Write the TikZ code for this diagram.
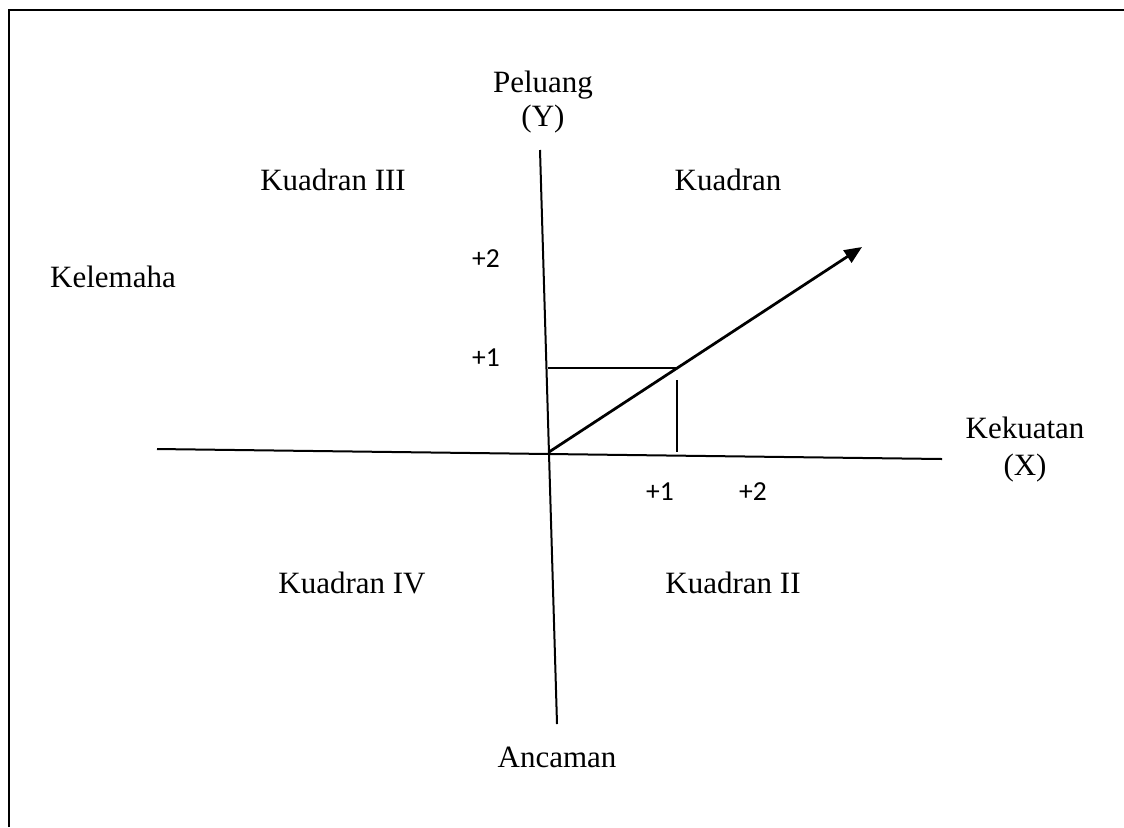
\documentclass[tikz,border=0pt]{standalone}
\usepackage{fontspec}
\setmainfont{Liberation Serif}
\newfontfamily\numfont{Carlito}
\usepackage{tikz}
\usetikzlibrary{arrows.meta,positioning}

\begin{document}
\begin{tikzpicture}[
    x=0.4pt,y=-0.4pt,
    label/.style={inner sep=0pt,anchor=base,font=\fontsize{12.4}{14}\selectfont},
    tick/.style={inner sep=0pt,anchor=base,font=\numfont\fontsize{11}{13}\selectfont},
    axis/.style={line width=0.8pt},
    arrow/.style={-{Triangle[length=7pt,width=5.8pt]},line width=1.1pt}
]
\useasboundingbox (0,0) rectangle (1124,827);
\draw[line width=1.1pt] (9,827) -- (9,10) -- (1124,10);
% axes
\coordinate (O) at (549,452);
\coordinate (ytop) at (540,150);
\coordinate (ybot) at (557,724);
\coordinate (xleft) at (157,449);
\coordinate (xright) at (942,459);
\coordinate (tip) at (862,247);
\coordinate (p) at (677,368);
\coordinate (py) at (548,368);
\coordinate (px) at (677,380);
\coordinate (pxb) at (677,452);
\draw[axis] (ytop) -- (ybot);
\draw[axis] (xleft) -- (xright);
\draw[axis] (py) -- (p);
\draw[axis] (px) -- (pxb);
\draw[arrow] (O) -- (tip);
% labels
\node[label] (peluang) at (543,92) {Peluang};
\node[label] (y) at (543,126) {(Y)};
\node[label] (kekuatan) at (1025,438) {Kekuatan};
\node[label] (x) at (1025,475) {(X)};
\node[label] (ancaman) at (557,767) {Ancaman};
\node[label] (kelemahan) at (113,287) {Kelemaha};
\node[label] (q3) at (333,190) {Kuadran III};
\node[label] (q1) at (728,190) {Kuadran};
\node[label] (q4) at (352,593) {Kuadran IV};
\node[label] (q2) at (733,593) {Kuadran II};
% scale
\node[tick] (y2) at (486,267) {+2};
\node[tick] (y1) at (486,366) {+1};
\node[tick] (x1) at (660,500) {+1};
\node[tick] (x2) at (753,500) {+2};
\end{tikzpicture}
\end{document}
